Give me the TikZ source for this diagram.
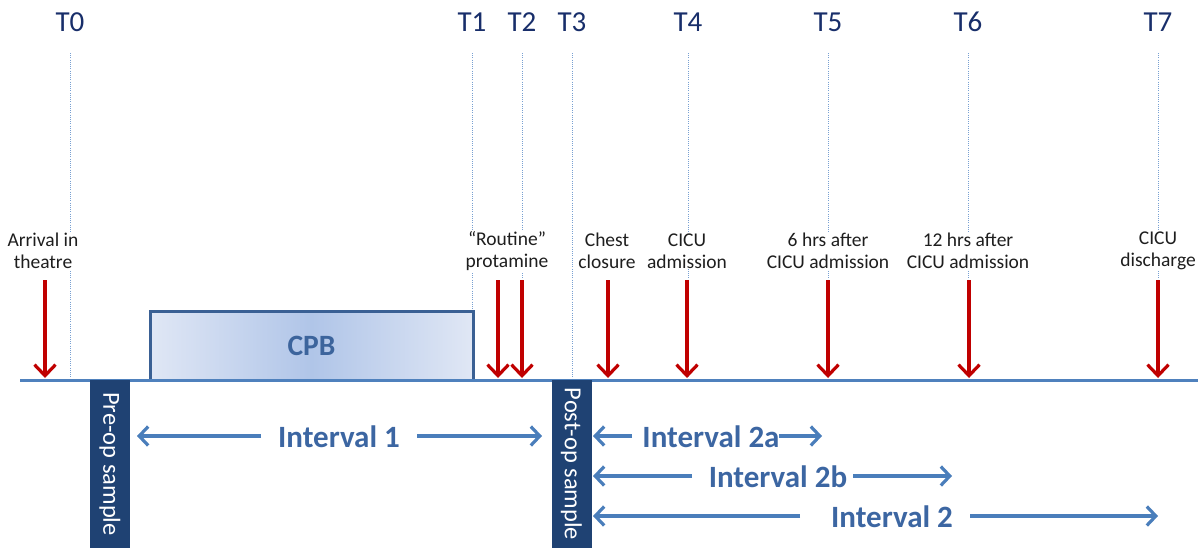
\documentclass[tikz,border=0pt]{standalone}
\usepackage{fontspec}
\setmainfont{Carlito}
\usetikzlibrary{arrows.meta}
\definecolor{tnavy}{RGB}{24,46,106}
\definecolor{axisblue}{RGB}{79,129,189}
\definecolor{dotblue}{RGB}{120,160,210}
\definecolor{redarr}{RGB}{192,0,0}
\definecolor{barnavy}{RGB}{31,66,115}
\definecolor{cpbedge}{RGB}{58,96,148}
\definecolor{cpblight}{RGB}{224,231,245}
\definecolor{cpbmid}{RGB}{176,197,232}
\definecolor{cpbtext}{RGB}{60,100,156}
\definecolor{ivtext}{RGB}{60,102,162}
\definecolor{ivarrow}{RGB}{74,126,187}
\definecolor{lbl}{RGB}{30,30,30}
\tikzset{
  tlabel/.style={text=tnavy, font=\fontsize{29}{32}\selectfont, inner sep=0pt},
  guide/.style={dotblue, line width=0.8pt, dash pattern=on 1pt off 1.2pt},
  evlabel/.style={text=lbl, font=\fontsize{19.5}{22}\selectfont, align=center, fill=white, inner sep=1pt},
  redarrow/.style={redarr, line width=3.2pt, -{Straight Barb[length=11pt,width=21pt,line width=3.2pt]}},
  ivlabel/.style={text=ivtext, font=\bfseries\fontsize{31}{34}\selectfont, inner sep=0pt},
  ivarrowstyle/.style={ivarrow, line width=3.2pt, -{Straight Barb[length=9pt,width=19pt,line width=3.2pt]}},
  samplebar/.style={fill=barnavy, draw=none, minimum width=40pt, minimum height=168pt, inner sep=0pt, text=white, font=\fontsize{24.5}{26}\selectfont},
}
\begin{document}
\begin{tikzpicture}[x=1pt,y=-1pt]
\useasboundingbox (0,0) rectangle (1198,547);
% time labels
\foreach \n/\x in {0/70,1/472,2/522,3/572,4/688,5/828,6/968,7/1158}{
  \node[tlabel] (t\n) at (\x,22) {T\n};
  \coordinate (gt\n) at (\x,53);
  \coordinate (gb\n) at (\x,380);
  \draw[guide] (gt\n) -- (gb\n);
}
% baseline
\coordinate (axl) at (20,380);
\coordinate (axr) at (1198,380);
% CPB box
\shade[left color=cpblight, right color=cpblight, middle color=cpbmid]
  (150,311) rectangle (473,380);
\node[draw=cpbedge, line width=3pt, minimum width=323pt, minimum height=69pt, inner sep=0pt,
      text=cpbtext, font=\bfseries\fontsize{29.5}{31}\selectfont] (cpb) at (311.5,345.5) {CPB};
\draw[axisblue, line width=3pt] (axl) -- (axr);
% event labels
\node[evlabel] (e0) at (43,251) {Arrival in\\theatre};
\node[evlabel] (e1) at (507,251) {“Routine”\\protamine};
\node[evlabel] (e3) at (607,251) {Chest\\closure};
\node[evlabel] (e4) at (687,251) {CICU\\admission};
\node[evlabel] (e5) at (828,251) {6 hrs after\\CICU admission};
\node[evlabel] (e6) at (968,251) {12 hrs after\\CICU admission};
\node[evlabel] (e7) at (1158,251) {CICU\\discharge};
% red arrows
\foreach \k/\x in {a/45,b/498,c/522,d/608,e/687,f/828,g/969,h/1158}{
  \coordinate (rs\k) at (\x,280);
  \coordinate (re\k) at (\x,378);
  \draw[redarrow] (rs\k) -- (re\k);
}
% sample bars
\node[samplebar] (pre) at (110,464) {\rotatebox{-90}{Pre-op sample}};
\node[samplebar] (post) at (571.5,464) {\rotatebox{-90}{Post-op sample}};
% intervals
\node[ivlabel] (i1) at (339,437) {Interval 1};
\coordinate (i1l) at (261,436); \coordinate (i1lt) at (137,436);
\coordinate (i1r) at (417,436); \coordinate (i1rt) at (542,436);
\draw[ivarrowstyle] (i1l) -- (i1lt);
\draw[ivarrowstyle] (i1r) -- (i1rt);

\node[ivlabel] (i2a) at (711,437) {Interval 2a};
\coordinate (i2al) at (632,436); \coordinate (i2alt) at (593,436);
\coordinate (i2ar) at (779,436); \coordinate (i2art) at (822,436);
\draw[ivarrowstyle] (i2al) -- (i2alt);
\draw[ivarrowstyle] (i2ar) -- (i2art);

\node[ivlabel] (i2b) at (778,477) {Interval 2b};
\coordinate (i2bl) at (692,476); \coordinate (i2blt) at (593,476);
\coordinate (i2br) at (853,476); \coordinate (i2brt) at (952,476);
\draw[ivarrowstyle] (i2bl) -- (i2blt);
\draw[ivarrowstyle] (i2br) -- (i2brt);

\node[ivlabel] (i2) at (892,517) {Interval 2};
\coordinate (i2l) at (800,516); \coordinate (i2lt) at (593,516);
\coordinate (i2r) at (970,516); \coordinate (i2rt) at (1158,516);
\draw[ivarrowstyle] (i2l) -- (i2lt);
\draw[ivarrowstyle] (i2r) -- (i2rt);
\end{tikzpicture}
\end{document}
